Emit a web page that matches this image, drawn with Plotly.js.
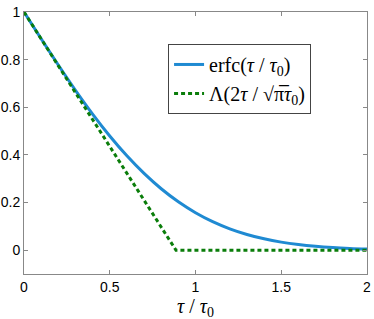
<!DOCTYPE html>
<html><head><meta charset="utf-8">
<script src="https://cdn.plot.ly/plotly-3.0.1.min.js"></script>
<style>html,body{margin:0;padding:0;background:#fff}#chart{width:374px;height:319px}</style>
</head><body><div id="chart"></div>
<script>
// tau / tau0 sample points and erfc values
const tauErfc = [0,0.1,0.2,0.3,0.4,0.5,0.6,0.7,0.8,0.9,1.0,1.1,1.2,1.3,1.4,1.5,1.6,1.7,1.8,1.9,2.0];
const erfcVals = [1,0.8875,0.7773,0.6714,0.5716,0.4795,0.3961,0.3222,0.2579,0.2031,0.1573,0.1198,0.0897,0.0660,0.0477,0.0339,0.0237,0.0162,0.0109,0.0072,0.0047];
// triangle function: corners
const tauTri = [0, 0.886, 2];
const triVals = [1, 0, 0];
const xTicks = [0, 0.5, 1, 1.5, 2];
const xTickText = ['0', '0.5', '1', '1.5', '2'];
const yTicks = [0, 0.2, 0.4, 0.6, 0.8, 1];
const yTickText = ['0', '0.2', '0.4', '0.6', '0.8', '1'];

const serif = 'Liberation Serif, Times New Roman, serif';
const traces = [
  {x: tauErfc, y: erfcVals, mode: 'lines', line: {color: '#1f8ad2', width: 3, shape: 'spline'},
   name: 'erfc(<i>τ</i> / <i>τ</i><sub>0</sub>)'},
  {x: tauTri, y: triVals, mode: 'lines', line: {color: '#0a7d0a', width: 3, dash: '4px,3px'},
   name: 'Λ(2<i>τ</i> / √π\u0305<i>τ</i><sub>0</sub>)'}
];
const axisCommon = {showline: true, linecolor: '#888', linewidth: 1, mirror: 'ticks', ticks: 'inside',
  ticklen: 4, tickcolor: '#888', showgrid: false, zeroline: false,
  tickfont: {family: 'Liberation Sans, Arial, sans-serif', size: 14, color: '#000'}};
const layout = {
  width: 374, height: 319,
  margin: {l: 24, r: 7, t: 12, b: 44.5},
  paper_bgcolor: '#fff', plot_bgcolor: '#fff',
  showlegend: true,
  legend: {x: 0.42, y: 0.878, xanchor: 'left', yanchor: 'top', bgcolor: '#fff',
    bordercolor: '#444', borderwidth: 1, itemwidth: 30, tracegroupgap: 0,
    font: {family: serif, size: 20, color: '#000'}},
  xaxis: Object.assign({}, axisCommon, {range: [0, 2], tickvals: xTicks, ticktext: xTickText}),
  yaxis: Object.assign({}, axisCommon, {range: [-0.1, 1], tickvals: yTicks, ticktext: yTickText}),
  annotations: [{text: '<i>τ</i> / <i>τ</i><sub>0</sub>', xref: 'paper', yref: 'paper', x: 0.5, y: 0,
    xanchor: 'center', yanchor: 'top', yshift: -19, showarrow: false,
    font: {family: serif, size: 20, color: '#000'}}]
};
Plotly.newPlot('chart', traces, layout, {displayModeBar: false, staticPlot: true});
</script></body></html>
